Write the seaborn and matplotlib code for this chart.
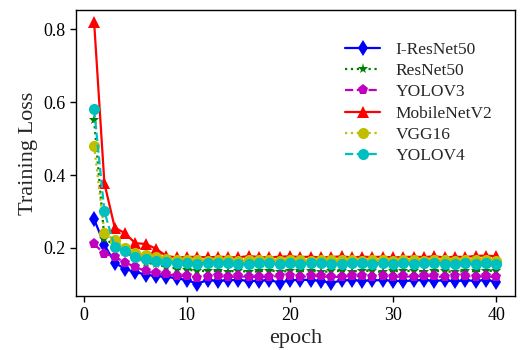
import numpy as np
import pandas as pd
import seaborn as sns
import matplotlib
matplotlib.use("Agg")
import matplotlib.pyplot as plt

epochs = list(range(1, 41))

i_resnet50 = [0.279, 0.208, 0.160, 0.142, 0.134, 0.127, 0.123, 0.121, 0.117, 0.112,
              0.102, 0.112, 0.110, 0.111, 0.113, 0.109, 0.110, 0.112, 0.105, 0.111,
              0.113, 0.112, 0.110, 0.104, 0.111, 0.112, 0.110, 0.111, 0.112, 0.110,
              0.109, 0.111, 0.112, 0.110, 0.111, 0.109, 0.111, 0.110, 0.112, 0.108]
resnet50 = [0.550, 0.225, 0.208, 0.188, 0.172, 0.160, 0.155, 0.148, 0.143, 0.140,
            0.138, 0.136, 0.137, 0.135, 0.138, 0.134, 0.136, 0.138, 0.135, 0.137,
            0.136, 0.138, 0.134, 0.136, 0.137, 0.135, 0.138, 0.136, 0.134, 0.137,
            0.136, 0.138, 0.135, 0.137, 0.136, 0.134, 0.137, 0.136, 0.138, 0.136]
yolov3 = [0.211, 0.184, 0.176, 0.160, 0.148, 0.136, 0.130, 0.128, 0.124, 0.122,
          0.118, 0.121, 0.123, 0.120, 0.122, 0.121, 0.119, 0.121, 0.123, 0.122,
          0.120, 0.123, 0.122, 0.120, 0.121, 0.123, 0.122, 0.121, 0.123, 0.120,
          0.122, 0.121, 0.123, 0.122, 0.120, 0.122, 0.123, 0.121, 0.122, 0.120]
mobilenetv2 = [0.820, 0.377, 0.256, 0.240, 0.213, 0.211, 0.198, 0.178, 0.174, 0.175,
               0.176, 0.174, 0.176, 0.175, 0.174, 0.178, 0.175, 0.174, 0.176, 0.177,
               0.175, 0.176, 0.174, 0.175, 0.177, 0.174, 0.176, 0.175, 0.176, 0.174,
               0.175, 0.176, 0.175, 0.177, 0.174, 0.176, 0.175, 0.178, 0.179, 0.177]
vgg16 = [0.480, 0.240, 0.222, 0.200, 0.186, 0.180, 0.174, 0.170, 0.167, 0.166,
         0.167, 0.165, 0.166, 0.167, 0.165, 0.166, 0.167, 0.166, 0.165, 0.167,
         0.166, 0.165, 0.167, 0.166, 0.168, 0.166, 0.165, 0.167, 0.166, 0.165,
         0.167, 0.166, 0.165, 0.167, 0.166, 0.165, 0.166, 0.167, 0.166, 0.165]
yolov4 = [0.580, 0.300, 0.202, 0.192, 0.175, 0.170, 0.165, 0.161, 0.159, 0.158,
          0.157, 0.158, 0.159, 0.158, 0.157, 0.156, 0.158, 0.159, 0.157, 0.158,
          0.157, 0.159, 0.158, 0.156, 0.157, 0.158, 0.159, 0.157, 0.158, 0.156,
          0.158, 0.157, 0.159, 0.158, 0.157, 0.156, 0.158, 0.157, 0.158, 0.157]

series = [
    ("I-ResNet50", i_resnet50, "b", "d", "-"),
    ("ResNet50", resnet50, "g", "*", ":"),
    ("YOLOV3", yolov3, "m", "p", "--"),
    ("MobileNetV2", mobilenetv2, "r", "^", "-"),
    ("VGG16", vgg16, "y", "o", ":"),
    ("YOLOV4", yolov4, "c", "o", "--"),
]

sns.set_style("ticks")
plt.rcParams["font.family"] = ["Liberation Serif", "DejaVu Serif"]

fig = plt.figure(figsize=(5.21, 3.5), dpi=100)
ax = fig.add_axes([0.146, 0.154, 0.842, 0.817])

for name, vals, color, marker, ls in series:
    df = pd.DataFrame({"epoch": epochs, "loss": vals})
    sns.lineplot(data=df, x="epoch", y="loss", ax=ax, color=color, marker=marker,
                 linestyle=ls, linewidth=1.6, markersize=8, markeredgewidth=0,
                 label=name)

ax.set_xlim(-0.75, 41.8)
ax.set_ylim(0.068, 0.852)
ax.set_xticks([0, 10, 20, 30, 40])
ax.set_yticks([0.2, 0.4, 0.6, 0.8])
ax.set_yticklabels(["0.2", "0.4", "0.6", "0.8"])
ax.tick_params(labelsize=13, direction="out", length=4, width=1, colors="black")
ax.set_xlabel("epoch", fontsize=16)
ax.set_ylabel("Training Loss", fontsize=16)
for s in ax.spines.values():
    s.set_color("black")
    s.set_linewidth(1.0)

ax.legend(loc="upper right", bbox_to_anchor=(0.985, 0.945), frameon=False,
          fontsize=12.5, handlelength=2.0, labelspacing=0.3, handletextpad=0.9)

fig.savefig("out.png", dpi=100)
